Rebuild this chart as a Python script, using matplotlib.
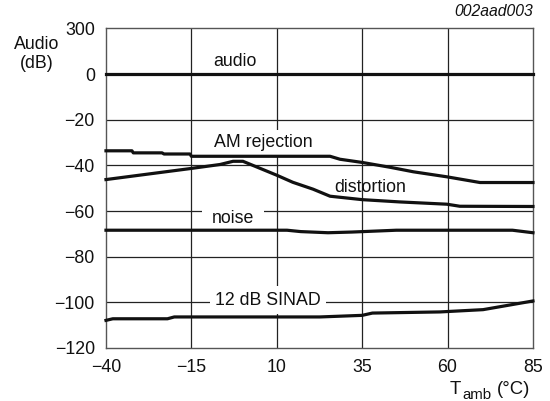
import matplotlib
matplotlib.use("Agg")
import matplotlib.pyplot as plt

plt.rcParams['font.family'] = ['Liberation Sans', 'DejaVu Sans']

# data
audio_t = [-40, 85]
audio_v = [0, 0]

am_t = [-40, -32.4, -32, -23.6, -23, -15.4, -15, 25.6, 28.5, 35, 43.1, 50, 59.8, 69.5, 85]
am_v = [-33.6, -33.6, -34.5, -34.5, -35, -35, -36, -36, -37.3, -38.7, -40.8, -42.8, -45, -47.5, -47.5]

dist_t = [-40, -15.4, -6.6, -2.8, 0.1, 10, 14.7, 20.6, 25.6, 35, 46, 59.8, 63.6, 85]
dist_v = [-46.2, -41.4, -39.6, -38.2, -38.2, -44.3, -47.4, -50.4, -53.5, -55, -56, -57, -57.9, -58]

noise_t = [-40, 13, 17, 25, 32, 45, 79, 85]
noise_v = [-68.4, -68.4, -69, -69.5, -69.2, -68.4, -68.4, -69.5]

sinad_t = [-40, -38, -22, -20, 22.6, 35, 38, 57.8, 70.4, 85]
sinad_v = [-107.9, -107.2, -107.2, -106.4, -106.4, -105.7, -104.7, -104.2, -103.2, -99.4]

xticks = [-40, -15, 10, 35, 60, 85]
yticks = [-120, -100, -80, -60, -40, -20, 0, 20]
ytick_labels = ['\u2212120', '\u2212100', '\u221280', '\u221260', '\u221240', '\u221220', '0', '300']
xtick_labels = ['\u221240', '\u221215', '10', '35', '60', '85']

fs = 12.8

fig = plt.figure(figsize=(5.5, 4.01), dpi=100)
ax = fig.add_axes([0.1927, 0.1322, 0.969 - 0.1927, 0.929 - 0.1322])
ax.set_xlim(-40, 85)
ax.set_ylim(-120, 20)
ax.set_xticks(xticks)
ax.set_xticklabels(xtick_labels)
ax.set_yticks(yticks)
ax.set_yticklabels(ytick_labels)
ax.tick_params(axis='y', length=0, labelsize=fs, pad=8, colors='#111')
ax.tick_params(axis='x', length=0, labelsize=fs, pad=8, colors='#111')

for x in xticks[1:-1]:
    ax.axvline(x, color='#222', lw=0.9, zorder=1)
for y in yticks[1:-1]:
    ax.axhline(y, color='#222', lw=0.9, zorder=1)
for s in ax.spines.values():
    s.set_color('#555')
    s.set_linewidth(1.0)

lw = 2.3
for t, v in [(audio_t, audio_v), (am_t, am_v), (dist_t, dist_v), (noise_t, noise_v), (sinad_t, sinad_v)]:
    ax.plot(t, v, color='#111', lw=lw, zorder=3, solid_joinstyle='round', clip_on=False)

ax.text(-2.2, 5.5, 'audio', ha='center', va='center', fontsize=fs, zorder=2, color='#111')
ax.text(6, -30, 'AM rejection', ha='center', va='center', fontsize=fs, zorder=2, color='#111',
        bbox=dict(facecolor='white', edgecolor='none', pad=3))
ax.text(37.3, -49.6, 'distortion', ha='center', va='center', fontsize=fs, zorder=2, color='#111')
ax.text(-2.8, -63.2, 'noise', ha='center', va='center', fontsize=fs, zorder=2, color='#111',
        bbox=dict(facecolor='white', edgecolor='none', pad=7))
ax.text(7.4, -99.1, '12 dB SINAD', ha='center', va='center', fontsize=fs, zorder=2, color='#111',
        bbox=dict(facecolor='white', edgecolor='none', pad=4))

fig.text(37 / 550, 1 - 54 / 401, 'Audio\n(dB)', ha='center', va='center', fontsize=fs,
         linespacing=1.2, color='#111')
# x-axis label: T with subscript "amb", then (°C)
fig.text(450 / 550, 1 - 394 / 401, 'T', ha='left', va='baseline', fontsize=13.3, color='#111')
fig.text(462 / 550, 1 - 399 / 401, 'amb', ha='left', va='baseline', fontsize=10.8, color='#111')
fig.text(497 / 550, 1 - 394 / 401, '(°C)', ha='left', va='baseline', fontsize=13.3, color='#111')
fig.text(533 / 550, 1 - 11 / 401, '002aad003', ha='right', va='center', fontsize=11.3,
         style='italic', color='#111')

fig.savefig('out.png', dpi=100)
